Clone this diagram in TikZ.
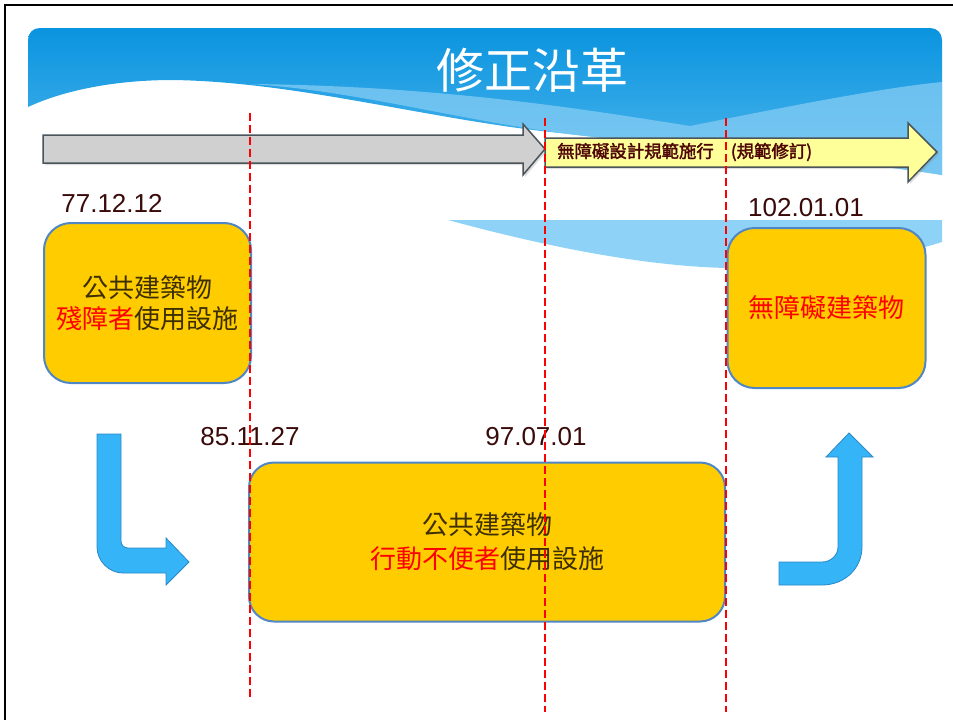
\documentclass[tikz,border=0pt]{standalone}
\usepackage{fontspec}
\setmainfont{Liberation Sans}
\newfontfamily\cjk{Noto Sans CJK TC}
\newfontfamily\cjkbold[FakeBold=2]{Noto Sans CJK TC}
\usetikzlibrary{shadows}
\definecolor{bannerTop}{HTML}{0A94DF}
\definecolor{bannerBot}{HTML}{4FB6EC}
\definecolor{bannerLight}{HTML}{8ACFF5}
\definecolor{bandBlue}{HTML}{8FD2F7}
\definecolor{arrowGray}{HTML}{4A545A}
\definecolor{arrowFillGray}{HTML}{D0D0D0}
\definecolor{arrowFillYellow}{HTML}{FFFF99}
\definecolor{noteRed}{HTML}{4D0505}
\definecolor{dateRed}{HTML}{3A0A0A}
\definecolor{boxGold}{HTML}{FFCC00}
\definecolor{boxBlue}{HTML}{4F86C6}
\definecolor{boxText}{HTML}{3D2F00}
\definecolor{arrowBlue}{HTML}{35B4F8}
\definecolor{arrowEdge}{HTML}{2A88C4}

\begin{document}
\begin{tikzpicture}[x=1pt,y=-1pt]
      \tikzstyle{every node}=[inner sep=0pt]
      \tikzstyle{datelabel}=[font=\fontsize{26}{26}\selectfont, text=dateRed]
      \tikzstyle{boxnode}=[draw=boxBlue, line width=2pt, fill=boxGold, align=center, text=boxText]
      \tikzstyle{dashline}=[red, line width=2pt, dash pattern=on 8pt off 4pt]
      \tikzstyle{bentarrow}=[fill=arrowBlue, draw=arrowEdge, line width=0.8pt]
      \tikzstyle{timearrow}=[draw=arrowGray, line width=1.5pt, line join=miter]
      %%
  \useasboundingbox (0,0) rectangle (953,720);
  \draw [line width=2pt] (5,720) -- (5,5) -- (953,5);
  % banner
  \shade [top color=bannerTop, bottom color=bannerBot] (28,107) -- (28,40) .. controls (28,33) and (33,28) .. (40,28) -- (930,28) .. controls (937,28) and (942,33) .. (942,40) -- (942,175) .. controls (850,160) and (700,150) .. (560,133) .. controls (430,120) and (300,82) .. (173,80) .. controls (110,80) and (60,92) .. (28,107) -- cycle;
  \fill [bannerLight, opacity=0.7] (250,84) .. controls (450,86) and (600,112) .. (690,126) .. controls (780,108) and (880,88) .. (942,82) -- (942,175) .. controls (850,160) and (700,150) .. (560,133) .. controls (450,118) and (350,90) .. (250,84) -- cycle;
  \fill [bandBlue] (448,220) -- (942,220) -- (942,242) .. controls (880,262) and (800,268) .. (727,268) .. controls (640,266) and (540,245) .. (448,220) -- cycle;
  \node (title) at (532,70) [text=white, font=\cjk\fontsize{48}{48}\selectfont] {修正沿革};
  % time line
  \draw [timearrow, fill=arrowFillGray, drop shadow={opacity=0.25,shadow xshift=2pt,shadow yshift=-2pt}] (43,135) -- (523,135) -- (523,124) -- (545,149) -- (523,175) -- (523,163) -- (43,163) -- cycle;
  \draw [timearrow, fill=arrowFillYellow, drop shadow={opacity=0.25,shadow xshift=2pt,shadow yshift=-2pt}] (545,138) -- (908,138) -- (908,123) -- (937,152) -- (908,182) -- (908,167) -- (545,167) -- cycle;
  \node (note) at (557,152) [anchor=west, text=noteRed, font=\cjkbold\fontsize{17.4}{17.4}\selectfont] {無障礙設計規範施行\hspace{17pt}(規範修訂)};
  % boxes
  \node (rule77) at (147.5,303) [boxnode, rounded corners=27pt, minimum width=207pt, minimum height=160pt, font=\cjk\fontsize{26}{31}\selectfont] {公共建築物\\\textcolor{red}{殘障者}使用設施};
  \node (rule85) at (487,542) [boxnode, rounded corners=25pt, minimum width=476pt, minimum height=159pt, font=\cjk\fontsize{26}{34}\selectfont] {公共建築物\\\textcolor{red}{行動不便者}使用設施};
  \node (rule102) at (826.5,308) [boxnode, rounded corners=27pt, minimum width=198pt, minimum height=160pt, text=red, font=\cjk\fontsize{26}{31}\selectfont] {無障礙建築物};
  % dates
  \node (d77) at (112,203) [datelabel] {77.12.12};
  \node (d102) at (806,208) [datelabel] {102.01.01};
  \node (d85) at (250,437) [datelabel] {85.11.27};
  \node (d97) at (536,437) [datelabel] {97.07.01};
  % bent arrows
  \draw [bentarrow] (97,434) -- (121,434) -- (121,541) .. controls (121,545) and (124,548) .. (128,548) -- (166,548) -- (166,538) -- (189,562) -- (166,585) -- (166,573) -- (123,573) .. controls (109,573) and (97,561) .. (97,547) -- cycle;
  \draw [bentarrow] (779,562) -- (822,562) .. controls (831,562) and (838,555) .. (838,547) -- (838,457) -- (826,457) -- (849,433) -- (873,457) -- (862,457) -- (862,547) .. controls (862,568) and (845,585) .. (822,585) -- (779,585) -- cycle;
  % dividers
  \draw [dashline] (250,113) -- (250,697);
  \draw [dashline] (545,118) -- (545,712);
  \draw [dashline] (726,118) -- (726,712);
%
    \end{tikzpicture}
\end{document}
